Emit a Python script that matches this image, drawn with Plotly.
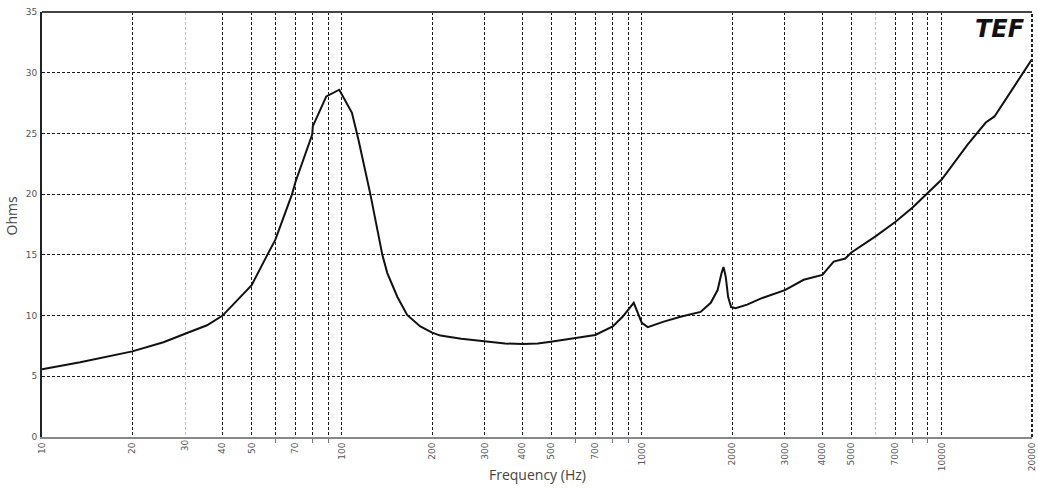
import plotly.graph_objects as go

freq_hz = [10, 13.4, 20, 25.4, 30, 35.5, 40, 45.8, 50, 56.4, 60, 68.2, 70, 79.6, 80, 88.7, 93, 98,
           108, 113.5, 124.4, 136.4, 141.7, 153, 165, 182.6, 200, 213, 250, 300, 350, 400, 450,
           497, 600, 700, 800, 863, 940, 968, 1000, 1047, 1184, 1346, 1570, 1698, 1790, 1845,
           1873, 1905, 1940, 1985, 2055, 2245, 2490, 3000, 3467, 4000, 4364, 4770, 5000, 6000,
           7000, 8000, 9000, 10000, 12220, 14030, 15000, 17400, 20000]
impedance_ohms = [5.57, 6.15, 7.05, 7.8, 8.5, 9.2, 10.0, 11.55, 12.5, 15.0, 16.25, 20.0, 21.0,
                  24.9, 25.6, 28.05, 28.3, 28.6, 26.7, 24.5, 20.0, 15.0, 13.5, 11.55, 10.05, 9.1,
                  8.6, 8.35, 8.1, 7.85, 7.7, 7.65, 7.7, 7.85, 8.15, 8.4, 9.1, 9.9, 11.05, 10.2,
                  9.4, 9.05, 9.5, 9.9, 10.3, 11.05, 12.1, 13.5, 14.0, 13.2, 11.55, 10.7, 10.6,
                  10.9, 11.4, 12.1, 12.95, 13.35, 14.45, 14.7, 15.2, 16.5, 17.7, 18.9, 20.1, 21.2,
                  24.1, 25.9, 26.4, 28.8, 31.1]

x_major_ticks = [10, 20, 40, 50, 70, 100, 200, 300, 400, 500, 700, 1000, 2000, 3000, 4000,
                 5000, 7000, 10000, 20000]
x_minor_ticks = [60, 80, 90, 600, 800, 900, 8000, 9000]
x_light_ticks = [30, 6000]
x_light_text = ["30", ""]
y_ticks = [0, 5, 10, 15, 20, 25, 30, 35]

GRID = "#1a1a1a"
DASH = "3px,2px"
TICKFONT = dict(family="DejaVu Sans", size=9, color="#555")
TITLEFONT = dict(family="Open Sans", size=14, color="#444")

fig = go.Figure()
fig.add_trace(go.Scatter(x=freq_hz, y=impedance_ohms, mode="lines",
                         line=dict(color="#111", width=2), showlegend=False,
                         hoverinfo="x+y"))

log_range = [0.9999, 4.3012]
fig.update_layout(
    width=1038, height=491,
    paper_bgcolor="white", plot_bgcolor="white",
    margin=dict(l=42, r=6, t=12, b=54),
    xaxis=dict(type="log", range=log_range, tickvals=x_major_ticks,
               ticktext=[str(v) for v in x_major_ticks], tickangle=-90,
               tickfont=TICKFONT, showgrid=True, gridcolor=GRID, griddash=DASH,
               gridwidth=1, showline=True, linecolor="#888", linewidth=2, mirror=False,
               ticks="", zeroline=False, automargin=False, ticklabeloverflow="allow",
               minor=dict(tickvals=x_minor_ticks, showgrid=True, gridcolor=GRID,
                          griddash=DASH, gridwidth=1, ticks="outside", ticklen=4,
                          tickcolor="#777")),
    xaxis2=dict(type="log", range=log_range, overlaying="x", anchor="y", side="bottom",
                tickvals=x_light_ticks, ticktext=x_light_text, tickangle=-90,
                tickfont=TICKFONT, showgrid=True, gridcolor="#c4c4c4", griddash=DASH,
                gridwidth=1, ticks="", showline=False, zeroline=False, automargin=False,
                ticklabeloverflow="allow"),
    yaxis=dict(range=[0, 35], tickvals=y_ticks, ticktext=[str(v) for v in y_ticks],
               tickfont=TICKFONT, showgrid=True, gridcolor=GRID, griddash=DASH,
               gridwidth=1, showline=True, linecolor="#222", linewidth=2, mirror=False,
               zeroline=False, ticks="", ticklabelstandoff=1, automargin=False,
               ticklabeloverflow="allow"),
    shapes=[
        dict(type="line", xref="paper", yref="paper", x0=0, x1=1, y0=1, y1=1,
             line=dict(color="#444", width=2), layer="above"),
        dict(type="line", xref="paper", yref="paper", x0=1, x1=1, y0=0, y1=1,
             line=dict(color="#222", width=2, dash="3px,2px"), layer="above"),
    ],
    annotations=[
        dict(text="<b><i>TEF</i></b>", xref="paper", yref="paper", x=1.0, y=1.0,
             xanchor="right", yanchor="top", showarrow=False,
             font=dict(family="DejaVu Sans", size=24, color="#111"),
             bgcolor="white", xshift=-5, yshift=-1),
        dict(text="Frequency (Hz)", xref="paper", yref="paper", x=0.5, y=0,
             xanchor="center", yanchor="top", yshift=-26, showarrow=False, font=TITLEFONT),
        dict(text="Ohms", xref="paper", yref="paper", x=0, y=0.52, textangle=-90,
             xanchor="right", yanchor="middle", xshift=-20, showarrow=False, font=TITLEFONT),
    ],
)
# invisible trace to activate the overlay axis
fig.add_trace(go.Scatter(x=[10, 20000], y=[None, None], xaxis="x2", mode="lines",
                         showlegend=False, hoverinfo="skip"))

fig.write_html("out.html", config={"displayModeBar": False},
               post_script="document.body.style.margin='0';document.body.style.overflow='hidden';")
